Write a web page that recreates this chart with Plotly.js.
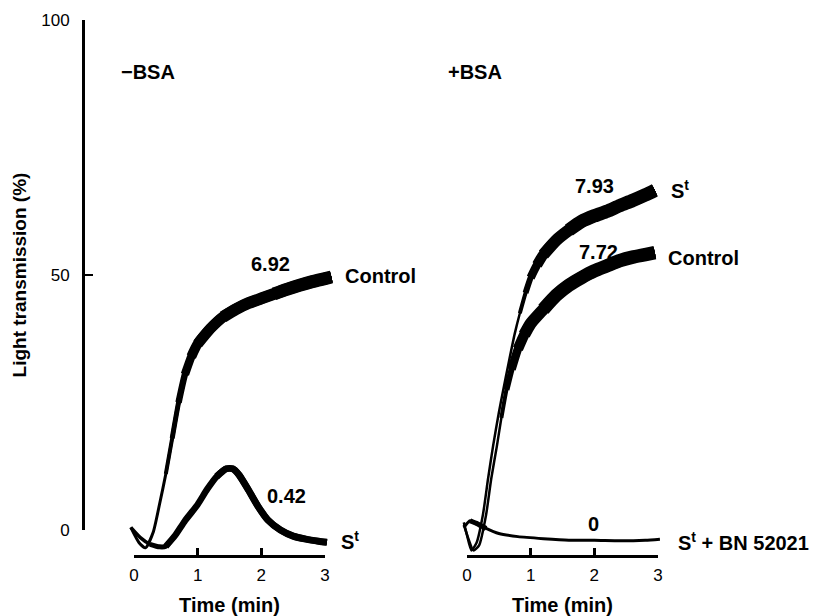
<!DOCTYPE html>
<html>
<head>
<meta charset="utf-8">
<script src="https://cdn.plot.ly/plotly-3.0.1.min.js"></script>
<style>html,body{margin:0;padding:0;background:#fff}#chart{width:822px;height:616px}</style>
</head>
<body>
<div id="chart"></div>
<script>
// ---- Data (time in min, light transmission in %) ----
// -BSA panel
const tLeftControl = [-0.05,0.08,0.18,0.30,0.40,0.50,0.60,0.70,0.80,0.90,1.00,1.20,1.40,1.60,1.80,2.00,2.20,2.40,2.60,2.80,3.00,3.10];
const vLeftControl = [0.5,-2.5,-3.5,-0.5,5,11,18,25,30.5,34,36.5,39.5,41.8,43.3,44.5,45.4,46.3,47.2,48,48.7,49.3,49.6];
const tLeftSt = [-0.05,0.10,0.25,0.40,0.50,0.65,0.80,1.00,1.15,1.30,1.45,1.55,1.65,1.80,1.95,2.10,2.30,2.50,2.70,2.90,3.03];
const vLeftSt = [0.5,-1.5,-2.8,-3.3,-3.2,-1,1.8,5,8,10.5,12,12,10.8,7.8,4.6,2,0,-1.2,-1.8,-2.2,-2.4];
// +BSA panel
const tRightSt = [-0.05,0.00,0.07,0.15,0.25,0.33,0.41,0.50,0.57,0.65,0.75,0.83,0.92,1.00,1.10,1.20,1.40,1.60,1.80,2.00,2.20,2.40,2.60,2.80,2.95];
const vRightSt = [1.5,-1,-4,-2.5,3,10,16.5,23,27.5,32.5,38.5,42.5,46.5,49.5,52,54,56.8,58.8,60.5,61.6,62.5,63.6,64.6,65.7,66.6];
const tRightControl = [-0.05,0.03,0.10,0.19,0.30,0.38,0.47,0.54,0.62,0.70,0.80,0.90,1.00,1.20,1.40,1.60,1.80,2.00,2.20,2.40,2.60,2.80,2.95];
const vRightControl = [1,-2,-4,-3,3,10,16.5,22,27.5,31.5,35.5,38.3,40.5,43.3,46,48,49.5,50.8,51.8,52.8,53.5,54,54.4];
const tRightBN = [-0.05,0.05,0.15,0.30,0.50,0.80,1.20,1.60,2.00,2.40,2.80,3.03];
const vRightBN = [0.5,1.8,1.3,0.3,-0.7,-1.3,-1.7,-2,-2,-2.1,-2,-1.8];
// Text labels
const panelLabels = ['\u2212BSA', '+BSA'];
const rateLabels = ['6.92', '0.42', '7.93', '7.72', '0'];
const curveLabels = ['Control', 'S<sup>t</sup>', 'S<sup>t</sup>', 'Control', 'S<sup>t</sup> + BN 52021'];
const xTicks = [0, 1, 2, 3];
const yTicks = [0, 50, 100];

// ---- Drawing ----
const FONT = 'Liberation Sans, Arial, Helvetica, sans-serif';
const traces = [];
// draw a recording trace; it thickens (noise band) from the given times on
function addCurve(t, v, xa, stages) {
  stages.forEach(function (s) {
    const xs = [], ys = [];
    for (let i = 0; i < t.length; i++) {
      if (t[i] >= s[0]) { xs.push(t[i]); ys.push(v[i]); }
    }
    traces.push({x: xs, y: ys, xaxis: xa, yaxis: 'y', mode: 'lines',
      line: {color: '#000', width: s[1], shape: 'spline', smoothing: 0.6},
      hoverinfo: 'skip', showlegend: false});
  });
}
addCurve(tLeftControl, vLeftControl, 'x', [[-9, 3], [0.5, 4], [0.6, 5], [0.7, 6.5], [0.8, 8.5], [0.9, 10], [1.0, 11], [1.4, 12], [2.2, 13]]);
addCurve(tLeftSt, vLeftSt, 'x', [[-9, 3.5], [0.25, 5], [0.5, 6.5], [1.3, 7]]);
addCurve(tRightSt, vRightSt, 'x2', [[-9, 2.5], [0.83, 4], [0.92, 6], [1.0, 8.5], [1.1, 10.5], [1.2, 12], [1.6, 13.5]]);
addCurve(tRightControl, vRightControl, 'x2', [[-9, 2.5], [0.54, 4], [0.62, 6], [0.7, 8.5], [0.8, 10.5], [0.9, 12], [1.2, 13.5]]);
addCurve(tRightBN, vRightBN, 'x2', [[-9, 3]]);
addCurve(tRightBN.slice(0, 4), vRightBN.slice(0, 4), 'x2', [[0.0, 5]]);
// empty traces so that the visible axis subplots exist
traces.push({x: [], y: [], xaxis: 'x3', yaxis: 'y2', mode: 'lines', showlegend: false, hoverinfo: 'skip'});
traces.push({x: [], y: [], xaxis: 'x4', yaxis: 'y2', mode: 'lines', showlegend: false, hoverinfo: 'skip'});

const W = 822, H = 616;
const pxPerMin = 63.67, leftZero = 134, rightZero = 467;
const yBottom = 556, yTop = 20, yZero = 530;
const dataRange = [-0.4, 3.45];
function xdom(zero) { return [(zero + dataRange[0] * pxPerMin) / W, (zero + dataRange[1] * pxPerMin) / W]; }
const hidden = {visible: false, showgrid: false, zeroline: false, fixedrange: true};
function timeAxis(zero) {
  return {domain: [zero / W, (zero + 3 * pxPerMin) / W], range: [0, 3], anchor: 'free', position: (H - yBottom) / H,
    tickvals: xTicks, ticktext: xTicks.map(String), ticks: 'inside', ticklen: 7, tickwidth: 2.5, tickcolor: '#000',
    showline: true, linewidth: 3, linecolor: '#000', showgrid: false, zeroline: false, fixedrange: true,
    ticklabelstandoff: 3,
    tickfont: {family: FONT, size: 17, color: '#000'},
    title: {text: 'Time (min)', font: {family: FONT, size: 20, color: '#000', weight: 'bold'}, standoff: 16}};
}
const annotations = [];
function ann(text, xref, x, y, xanchor) {
  annotations.push({text: text, xref: xref, yref: 'y', x: x, y: y, xanchor: xanchor, yanchor: 'middle', showarrow: false,
    font: {family: FONT, size: 20, color: '#000', weight: 'bold'}});
}
ann(panelLabels[0], 'x', -0.24, 89.8, 'left');
ann(panelLabels[1], 'x2', -0.33, 89.8, 'left');
ann(rateLabels[0], 'x', 2.15, 52.2, 'center');
ann(rateLabels[1], 'x', 2.40, 6.7, 'center');
ann(rateLabels[2], 'x2', 2.01, 67.5, 'center');
ann(rateLabels[3], 'x2', 2.07, 54.5, 'center');
ann(rateLabels[4], 'x2', 1.98, 1.2, 'center');
ann(curveLabels[0], 'x', 3.28, 49.8, 'left');
ann(curveLabels[1], 'x', 3.22, -2.0, 'left');
ann(curveLabels[2], 'x2', 3.17, 66.7, 'left');
ann(curveLabels[3], 'x2', 3.13, 53.3, 'left');
ann(curveLabels[4], 'x2', 3.29, -2.2, 'left');

const yPx = (yZero - yTop) / 100;
const layout = {
  width: W, height: H, margin: {l: 0, r: 0, t: 0, b: 0},
  paper_bgcolor: '#fff', plot_bgcolor: 'rgba(0,0,0,0)', showlegend: false,
  xaxis: Object.assign({domain: xdom(leftZero), range: dataRange, anchor: 'y'}, hidden),
  xaxis2: Object.assign({domain: xdom(rightZero), range: dataRange, anchor: 'y'}, hidden),
  yaxis: Object.assign({domain: [(H - yBottom) / H, (H - yTop) / H], range: [-(yBottom - yZero) / yPx, 100], anchor: 'x'}, hidden),
  xaxis3: timeAxis(leftZero),
  xaxis4: timeAxis(rightZero),
  yaxis2: {domain: [(H - yZero) / H, (H - yTop) / H], range: [0, 100], anchor: 'free', position: 83 / W,
    tickvals: yTicks, ticktext: yTicks.map(String), ticks: 'inside', ticklen: 8, tickwidth: 2.5, tickcolor: '#000',
    showline: true, linewidth: 2.5, linecolor: '#000', showgrid: false, zeroline: false, fixedrange: true,
    ticklabelstandoff: 9,
    tickfont: {family: FONT, size: 17, color: '#000'},
    title: {text: 'Light transmission (%)', font: {family: FONT, size: 19, color: '#000', weight: 'bold'}, standoff: 8}},
  annotations: annotations
};
Plotly.newPlot('chart', traces, layout, {staticPlot: true, displayModeBar: false});
</script>
</body>
</html>
